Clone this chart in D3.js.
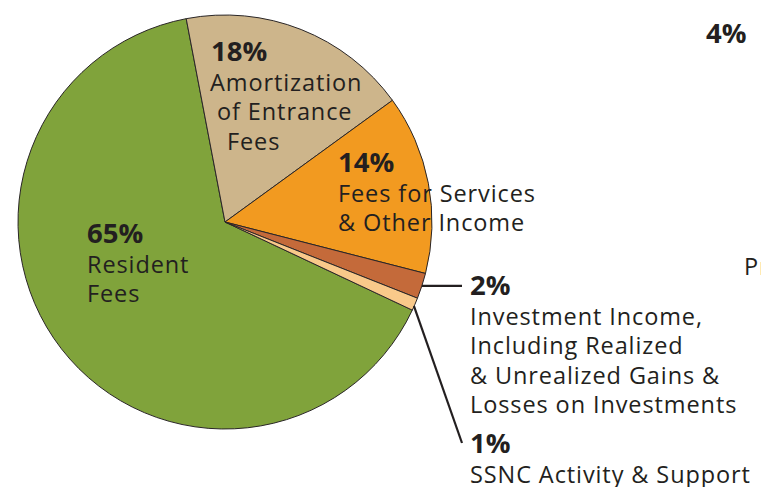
<!DOCTYPE html>
<html>
<head>
<meta charset="utf-8">
<script src="https://cdnjs.cloudflare.com/ajax/libs/d3/7.8.5/d3.min.js"></script>
<style>
  body { margin: 0; background: #fff; }
  text { font-family: "Open Sans", sans-serif; fill: #231f20; }
  .pct { font-weight: bold; font-size: 27.5px; }
  .lbl { font-size: 23.5px; letter-spacing: 0.9px; }
</style>
</head>
<body>
<div id="chart"></div>
<script>
// slices, in drawing order (clockwise from the green one)
var categories = ["Resident Fees", "Amortization of Entrance Fees", "Fees for Services & Other Income",
  "Investment Income", "SSNC Activity & Support"];
var values = [65, 18, 14, 2, 1];
var colors = ["#80a33b", "#cdb58b", "#f29a20", "#c46a3a", "#f9c98a"];

var width = 761, height = 487;
var cx = 225, cy = 222, radius = 207;

var svg = d3.select("#chart").append("svg")
  .attr("width", width)
  .attr("height", height);

var color = d3.scaleOrdinal().domain(categories).range(colors);

var start = 115.2 * Math.PI / 180;
var pie = d3.pie().sort(null).value(function(d) { return d; })
  .startAngle(start).endAngle(start + 2 * Math.PI);
var arc = d3.arc().innerRadius(0).outerRadius(radius);

var arcs = pie(values);

var g = svg.append("g").attr("transform", "translate(" + cx + "," + cy + ")");
g.selectAll("path.slice")
  .data(arcs)
  .enter().append("path")
  .attr("class", "slice")
  .attr("d", arc)
  .attr("fill", function(d, i) { return color(categories[i]); })
  .attr("stroke", "#2a2627")
  .attr("stroke-width", 1);

// leader lines for the two thin slices
function edge(a) {
  var m = (a.startAngle + a.endAngle) / 2;
  return [cx + radius * Math.sin(m), cy - radius * Math.cos(m)];
}
var p2 = edge(arcs[3]);
svg.append("path")
  .attr("d", "M" + p2[0] + "," + p2[1] + "H462")
  .attr("stroke", "#231f20").attr("stroke-width", 2.2).attr("fill", "none");
var p1 = edge(arcs[4]);
svg.append("path")
  .attr("d", "M" + (p1[0] - 1) + "," + (p1[1] + 2) + "L462,443")
  .attr("stroke", "#231f20").attr("stroke-width", 2.2).attr("fill", "none");

// label text blocks: percent first, then the wrapped lines
var labelLines = [
  ["65%", "Resident", "Fees"],
  ["18%", "Amortization", "of Entrance", "Fees"],
  ["14%", "Fees for Services", "& Other Income"],
  ["2%", "Investment Income,", "Including Realized", "& Unrealized Gains &", "Losses on Investments"],
  ["1%", "SSNC Activity & Support"]
];
var labelPos = [
  {x: 87, y: 243, dx: [0, 0, 0]},
  {x: 211, y: 61, dx: [0, -1, 6, 16]},
  {x: 338, y: 172, dx: [0, 0, 0]},
  {x: 470, y: 295, dx: [0, 0, 0, 0, 0]},
  {x: 470, y: 453, dx: [0, 0]}
];

labelLines.forEach(function(lines, i) {
  var p = labelPos[i];
  lines.forEach(function(t, j) {
    svg.append("text")
      .attr("class", j === 0 ? "pct" : "lbl")
      .attr("x", p.x + p.dx[j])
      .attr("y", p.y + (j === 0 ? 0 : 1 + j * 29.2))
      .text(t);
  });
});

// cut-off pieces of the neighbouring chart
svg.append("text").attr("class", "pct").attr("x", 706).attr("y", 43).text("4%");
svg.append("text").attr("class", "lbl").attr("x", 744).attr("y", 275).text("Pr");
</script>
</body>
</html>
